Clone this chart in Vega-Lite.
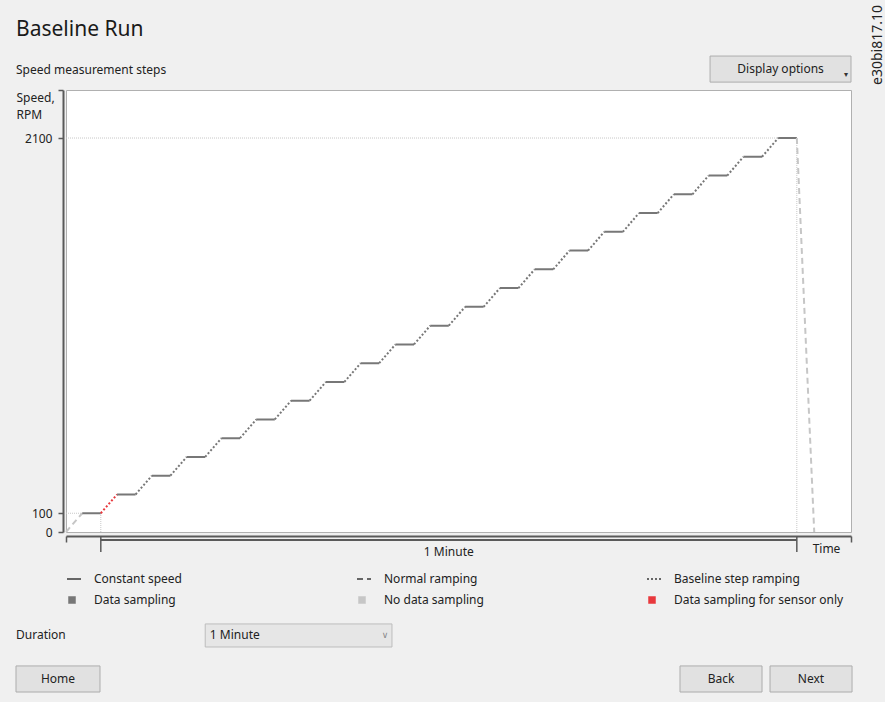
{
  "$schema": "https://vega.github.io/schema/vega-lite/v6.json",
  "width": 785,
  "height": 442,
  "autosize": {"type": "none"},
  "padding": {"left": 66, "top": 90, "right": 34, "bottom": 170},
  "background": "#f0f0f0",
  "title": {
    "text": "Baseline Run",
    "subtitle": "Speed measurement steps",
    "anchor": "start",
    "frame": "group",
    "dx": -50,
    "dy": 75,
    "fontSize": 21,
    "fontWeight": "normal",
    "color": "#1a1a1a",
    "subtitleFontSize": 12,
    "subtitleColor": "#222",
    "subtitlePadding": 25
  },
  "config": {
    "font": "Noto Sans",
    "view": {"fill": "white", "stroke": "#b0b0b0", "strokeWidth": 1},
    "legend": {"labelFontSize": 12, "labelColor": "#222", "labelFont": "Noto Sans", "labelLimit": 260}
  },
  "layer": [
    {
      "data": {"values": [
        {"t": 0, "t2": 63, "speed": 2100, "speed2": 2100},
        {"t": 0, "t2": 1.4, "speed": 100, "speed2": 100},
        {"t": 3, "t2": 3, "speed": 0, "speed2": 100},
        {"t": 63, "t2": 63, "speed": 0, "speed2": 2100}
      ]},
      "mark": {"type": "rule", "stroke": "#c8c8c8", "strokeDash": [1, 1], "strokeWidth": 1},
      "encoding": {
        "x": {"field": "t", "type": "quantitative", "title": "Time"},
        "x2": {"field": "t2"},
        "y": {"field": "speed", "type": "quantitative", "title": ["Speed,", "RPM"]},
        "y2": {"field": "speed2"}
      }
    },
    {
      "data": {"values": [
        {"t": 0, "t2": 1.4, "speed": 0, "speed2": 100, "style": "Normal ramping", "sampling": "No data sampling"},
        {"t": 1.4, "t2": 3, "speed": 100, "speed2": 100, "style": "Constant speed", "sampling": "Data sampling"},
        {"t": 3, "t2": 4.4, "speed": 100, "speed2": 200, "style": "Baseline step ramping", "sampling": "Data sampling for sensor only"},
        {"t": 4.4, "t2": 6, "speed": 200, "speed2": 200, "style": "Constant speed", "sampling": "Data sampling"},
        {"t": 6, "t2": 7.4, "speed": 200, "speed2": 300, "style": "Baseline step ramping", "sampling": "Data sampling"},
        {"t": 7.4, "t2": 9, "speed": 300, "speed2": 300, "style": "Constant speed", "sampling": "Data sampling"},
        {"t": 9, "t2": 10.4, "speed": 300, "speed2": 400, "style": "Baseline step ramping", "sampling": "Data sampling"},
        {"t": 10.4, "t2": 12, "speed": 400, "speed2": 400, "style": "Constant speed", "sampling": "Data sampling"},
        {"t": 12, "t2": 13.4, "speed": 400, "speed2": 500, "style": "Baseline step ramping", "sampling": "Data sampling"},
        {"t": 13.4, "t2": 15, "speed": 500, "speed2": 500, "style": "Constant speed", "sampling": "Data sampling"},
        {"t": 15, "t2": 16.4, "speed": 500, "speed2": 600, "style": "Baseline step ramping", "sampling": "Data sampling"},
        {"t": 16.4, "t2": 18, "speed": 600, "speed2": 600, "style": "Constant speed", "sampling": "Data sampling"},
        {"t": 18, "t2": 19.4, "speed": 600, "speed2": 700, "style": "Baseline step ramping", "sampling": "Data sampling"},
        {"t": 19.4, "t2": 21, "speed": 700, "speed2": 700, "style": "Constant speed", "sampling": "Data sampling"},
        {"t": 21, "t2": 22.4, "speed": 700, "speed2": 800, "style": "Baseline step ramping", "sampling": "Data sampling"},
        {"t": 22.4, "t2": 24, "speed": 800, "speed2": 800, "style": "Constant speed", "sampling": "Data sampling"},
        {"t": 24, "t2": 25.4, "speed": 800, "speed2": 900, "style": "Baseline step ramping", "sampling": "Data sampling"},
        {"t": 25.4, "t2": 27, "speed": 900, "speed2": 900, "style": "Constant speed", "sampling": "Data sampling"},
        {"t": 27, "t2": 28.4, "speed": 900, "speed2": 1000, "style": "Baseline step ramping", "sampling": "Data sampling"},
        {"t": 28.4, "t2": 30, "speed": 1000, "speed2": 1000, "style": "Constant speed", "sampling": "Data sampling"},
        {"t": 30, "t2": 31.4, "speed": 1000, "speed2": 1100, "style": "Baseline step ramping", "sampling": "Data sampling"},
        {"t": 31.4, "t2": 33, "speed": 1100, "speed2": 1100, "style": "Constant speed", "sampling": "Data sampling"},
        {"t": 33, "t2": 34.4, "speed": 1100, "speed2": 1200, "style": "Baseline step ramping", "sampling": "Data sampling"},
        {"t": 34.4, "t2": 36, "speed": 1200, "speed2": 1200, "style": "Constant speed", "sampling": "Data sampling"},
        {"t": 36, "t2": 37.4, "speed": 1200, "speed2": 1300, "style": "Baseline step ramping", "sampling": "Data sampling"},
        {"t": 37.4, "t2": 39, "speed": 1300, "speed2": 1300, "style": "Constant speed", "sampling": "Data sampling"},
        {"t": 39, "t2": 40.4, "speed": 1300, "speed2": 1400, "style": "Baseline step ramping", "sampling": "Data sampling"},
        {"t": 40.4, "t2": 42, "speed": 1400, "speed2": 1400, "style": "Constant speed", "sampling": "Data sampling"},
        {"t": 42, "t2": 43.4, "speed": 1400, "speed2": 1500, "style": "Baseline step ramping", "sampling": "Data sampling"},
        {"t": 43.4, "t2": 45, "speed": 1500, "speed2": 1500, "style": "Constant speed", "sampling": "Data sampling"},
        {"t": 45, "t2": 46.4, "speed": 1500, "speed2": 1600, "style": "Baseline step ramping", "sampling": "Data sampling"},
        {"t": 46.4, "t2": 48, "speed": 1600, "speed2": 1600, "style": "Constant speed", "sampling": "Data sampling"},
        {"t": 48, "t2": 49.4, "speed": 1600, "speed2": 1700, "style": "Baseline step ramping", "sampling": "Data sampling"},
        {"t": 49.4, "t2": 51, "speed": 1700, "speed2": 1700, "style": "Constant speed", "sampling": "Data sampling"},
        {"t": 51, "t2": 52.4, "speed": 1700, "speed2": 1800, "style": "Baseline step ramping", "sampling": "Data sampling"},
        {"t": 52.4, "t2": 54, "speed": 1800, "speed2": 1800, "style": "Constant speed", "sampling": "Data sampling"},
        {"t": 54, "t2": 55.4, "speed": 1800, "speed2": 1900, "style": "Baseline step ramping", "sampling": "Data sampling"},
        {"t": 55.4, "t2": 57, "speed": 1900, "speed2": 1900, "style": "Constant speed", "sampling": "Data sampling"},
        {"t": 57, "t2": 58.4, "speed": 1900, "speed2": 2000, "style": "Baseline step ramping", "sampling": "Data sampling"},
        {"t": 58.4, "t2": 60, "speed": 2000, "speed2": 2000, "style": "Constant speed", "sampling": "Data sampling"},
        {"t": 60, "t2": 61.4, "speed": 2000, "speed2": 2100, "style": "Baseline step ramping", "sampling": "Data sampling"},
        {"t": 61.4, "t2": 63, "speed": 2100, "speed2": 2100, "style": "Constant speed", "sampling": "Data sampling"},
        {"t": 63, "t2": 64.5, "speed": 2100, "speed2": 0, "style": "Normal ramping", "sampling": "No data sampling"}
      ]},
      "mark": {"type": "rule", "strokeWidth": 2},
      "encoding": {
        "x": {
          "field": "t", "type": "quantitative", "title": "Time",
          "scale": {"domain": [0, 67.67], "nice": false, "zero": false},
          "axis": {
            "values": [0, 67.67], "labels": false, "grid": false, "offset": 4,
            "tickSize": 6, "tickColor": "#5a5a5a", "tickWidth": 1.5,
            "domainColor": "#5a5a5a", "domainWidth": 2,
            "titleX": 760, "titleY": 12, "titleBaseline": "middle", "titleAlign": "center",
            "titleFontWeight": "normal", "titleFontSize": 12, "titleColor": "#222"
          }
        },
        "x2": {"field": "t2"},
        "y": {
          "field": "speed", "type": "quantitative", "title": ["Speed,", "RPM"],
          "scale": {"domain": [0, 2356], "nice": false},
          "axis": {
            "values": [0, 100, 2100, 2356], "format": "d",
            "labelExpr": "datum.value > 2200 ? '' : datum.label",
            "grid": false, "offset": 3, "tickSize": 5, "labelPadding": 6,
            "tickColor": "#5a5a5a", "tickWidth": 1.5, "domainColor": "#5a5a5a", "domainWidth": 2,
            "labelFontSize": 12, "labelColor": "#222",
            "titleAngle": 0, "titleAlign": "left", "titleBaseline": "top",
            "titleX": -47, "titleY": 2, "titleLineHeight": 17,
            "titleFontWeight": "normal", "titleFontSize": 12, "titleColor": "#222"
          }
        },
        "y2": {"field": "speed2"},
        "color": {
          "field": "sampling", "type": "nominal",
          "scale": {
            "domain": ["Data sampling", "No data sampling", "Data sampling for sensor only"],
            "range": ["#777777", "#c6c6c6", "#e8383d"]
          },
          "legend": {
            "title": null, "orient": "none", "legendX": 0, "legendY": 504,
            "direction": "horizontal", "columns": 3, "gridAlign": "all", "columnPadding": 92,
            "symbolType": "square", "symbolSize": 49, "labelOffset": 16,
            "encode": {"symbols": {"update": {
              "fill": {"scale": "color", "field": "value"},
              "stroke": {"value": "#9a9a9a"},
              "strokeWidth": {"value": 0.5}
            }}}
          }
        },
        "strokeDash": {
          "field": "style", "type": "nominal",
          "scale": {
            "domain": ["Constant speed", "Normal ramping", "Baseline step ramping"],
            "range": [[1, 0], [6, 4], [2, 2]]
          },
          "legend": {
            "title": null, "orient": "none", "legendX": 0, "legendY": 481,
            "direction": "horizontal", "columns": 3, "gridAlign": "all", "columnPadding": 133,
            "symbolType": "stroke", "symbolSize": 196, "symbolStrokeColor": "#666", "symbolStrokeWidth": 2,
            "labelOffset": 12
          }
        }
      }
    },
    {
      "data": {"name": "bracket", "values": [{"span": "1 Minute", "start": 3, "end": 63}]},
      "mark": {"type": "rule", "stroke": "#5a5a5a", "strokeWidth": 2, "yOffset": 8},
      "encoding": {
        "x": {"field": "start", "type": "quantitative"},
        "x2": {"field": "end"},
        "y": {"datum": 0}
      }
    },
    {
      "data": {"values": [{"span": "1 Minute", "start": 3, "end": 63}]},
      "transform": [{"fold": ["start", "end"], "as": ["edge", "t"]}],
      "mark": {"type": "rule", "stroke": "#5a5a5a", "strokeWidth": 1.5, "yOffset": 4, "y2Offset": 20},
      "encoding": {
        "x": {"field": "t", "type": "quantitative"},
        "y": {"datum": 0},
        "y2": {"datum": 0}
      }
    },
    {
      "data": {"values": [{"span": "1 Minute", "start": 3, "end": 63}]},
      "transform": [{"fold": ["start", "end"], "as": ["edge", "t"]}],
      "mark": {"type": "text", "fontSize": 12, "color": "#222", "baseline": "middle", "yOffset": 20},
      "encoding": {
        "x": {"field": "t", "type": "quantitative", "aggregate": "mean"},
        "y": {"datum": 0},
        "text": {"field": "span"}
      }
    },
    {
      "data": {"values": [{}]},
      "mark": {"type": "rect", "fill": "#e1e1e1", "stroke": "#adadad", "strokeWidth": 1},
      "encoding": {"x": {"datum": 55.52}, "x2": {"datum": 67.67}, "y": {"datum": 2537}, "y2": {"datum": 2398}}
    },
    {
      "data": {"values": [{"label": "Display options"}]},
      "mark": {"type": "text", "fontSize": 12, "color": "#222", "align": "center", "baseline": "middle"},
      "encoding": {"x": {"datum": 61.6}, "y": {"datum": 2470}, "text": {"field": "label"}}
    },
    {
      "data": {"values": [{"label": "▾"}]},
      "mark": {"type": "text", "fontSize": 8, "color": "#333", "align": "center", "baseline": "middle"},
      "encoding": {"x": {"datum": 67.2}, "y": {"datum": 2435}, "text": {"field": "label"}}
    },
    {
      "data": {"values": [{"label": "Duration"}]},
      "mark": {"type": "text", "fontSize": 12, "color": "#222", "align": "left", "baseline": "middle"},
      "encoding": {"x": {"datum": -4.31}, "y": {"datum": -549}, "text": {"field": "label"}}
    },
    {
      "data": {"values": [{}]},
      "mark": {"type": "rect", "fill": "#e6e6e6", "stroke": "#bdbdbd", "strokeWidth": 1},
      "encoding": {"x": {"datum": 12.0}, "x2": {"datum": 28.1}, "y": {"datum": -490}, "y2": {"datum": -613}}
    },
    {
      "data": {"values": [{"label": "1 Minute"}]},
      "mark": {"type": "text", "fontSize": 12, "color": "#222", "align": "left", "baseline": "middle"},
      "encoding": {"x": {"datum": 12.4}, "y": {"datum": -549}, "text": {"field": "label"}}
    },
    {
      "data": {"values": [{"label": "∨"}]},
      "mark": {"type": "text", "font": "DejaVu Sans", "fontSize": 9, "color": "#888", "align": "center", "baseline": "middle"},
      "encoding": {"x": {"datum": 27.5}, "y": {"datum": -549}, "text": {"field": "label"}}
    },
    {
      "data": {"values": [{}]},
      "mark": {"type": "rect", "fill": "#e1e1e1", "stroke": "#adadad", "strokeWidth": 1},
      "encoding": {"x": {"datum": -4.31}, "x2": {"datum": 2.93}, "y": {"datum": -714}, "y2": {"datum": -853}}
    },
    {
      "data": {"values": [{"label": "Home"}]},
      "mark": {"type": "text", "fontSize": 12, "color": "#222", "align": "center", "baseline": "middle"},
      "encoding": {"x": {"datum": -0.69}, "y": {"datum": -783}, "text": {"field": "label"}}
    },
    {
      "data": {"values": [{}]},
      "mark": {"type": "rect", "fill": "#e1e1e1", "stroke": "#adadad", "strokeWidth": 1},
      "encoding": {"x": {"datum": 52.93}, "x2": {"datum": 60.0}, "y": {"datum": -714}, "y2": {"datum": -853}}
    },
    {
      "data": {"values": [{"label": "Back"}]},
      "mark": {"type": "text", "fontSize": 12, "color": "#222", "align": "center", "baseline": "middle"},
      "encoding": {"x": {"datum": 56.47}, "y": {"datum": -783}, "text": {"field": "label"}}
    },
    {
      "data": {"values": [{}]},
      "mark": {"type": "rect", "fill": "#e1e1e1", "stroke": "#adadad", "strokeWidth": 1},
      "encoding": {"x": {"datum": 60.69}, "x2": {"datum": 67.76}, "y": {"datum": -714}, "y2": {"datum": -853}}
    },
    {
      "data": {"values": [{"label": "Next"}]},
      "mark": {"type": "text", "fontSize": 12, "color": "#222", "align": "center", "baseline": "middle"},
      "encoding": {"x": {"datum": 64.22}, "y": {"datum": -783}, "text": {"field": "label"}}
    },
    {
      "data": {"values": [{"label": "e30bi817.10"}]},
      "mark": {"type": "text", "fontSize": 14, "color": "#222", "align": "center", "baseline": "middle", "angle": 270},
      "encoding": {"x": {"datum": 70.0}, "y": {"datum": 2596}, "text": {"field": "label"}}
    }
  ]
}
